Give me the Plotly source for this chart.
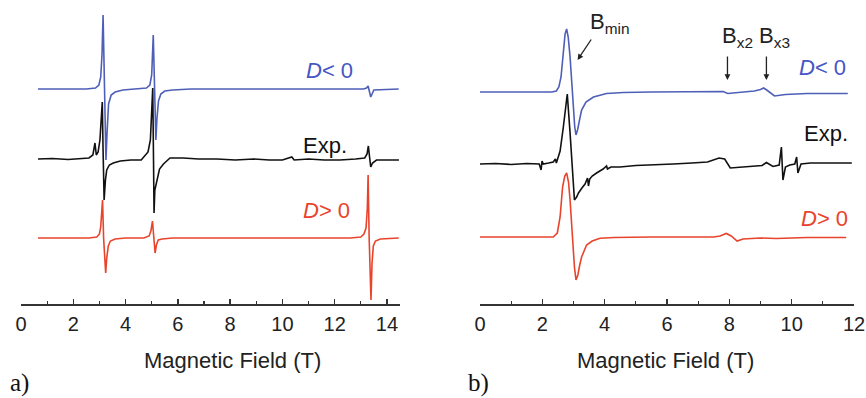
import plotly.graph_objects as go

# ---------------- Panel a) data (field in T, intensity relative to each baseline) ----------------
A_BLUE_X = [0.65, 2.5, 2.85, 2.98, 3.05, 3.10, 3.14, 3.18, 3.22, 3.25, 3.29, 3.35, 3.45, 3.6, 3.9, 4.4,
            4.8, 4.93, 5.0, 5.06, 5.10, 5.13, 5.16, 5.2, 5.26, 5.35, 5.5, 5.8, 6.5, 13.1, 13.22, 13.28,
            13.33, 13.38, 13.5, 14.45]
A_BLUE_Y = [0, 0, 1, 4, 12, 35, 74, 20, -40, -71, -45, -15, -6, -3, -1, 0,
            1, 4, 14, 54, 0, -40, -51, -30, -12, -5, -2, -1, 0, 0, 1, 3,
            -3, -8, -1, 0]

A_EXP_X = [0.65, 1.2, 1.8, 2.3, 2.6, 2.75, 2.83, 2.88, 2.95, 3.02, 3.07, 3.11, 3.14, 3.18, 3.23, 3.28,
           3.38, 3.53, 3.8, 4.2, 4.6, 4.86, 4.95, 5.0, 5.04, 5.07, 5.09, 5.12, 5.2, 5.3, 5.45, 5.7,
           6.2, 6.8, 7.5, 8.2, 8.9, 9.5, 10.0, 10.36, 10.45, 11.0, 11.6, 12.2, 12.8, 13.15, 13.24,
           13.29, 13.34, 13.38, 13.45, 13.6, 14.0, 14.46]
A_EXP_Y = [1, 1.5, 0.5, 1, 2, 5, 17, 5, 8, 20, 40, 58, 10, -40, -20, -10,
           -5, -3, -1, 0, 0, 8, 20, 45, 72, 0, -53, -30, -20, -9, -4, 2,
           2, 1, 1, 0, 1, 0, 0, 3, 0, 1, 0, 0, 1, 2, 6,
           14, 2, -7, -3, 0, 0, 0]

A_RED_X = [0.65, 2.6, 2.9, 3.0, 3.05, 3.09, 3.12, 3.16, 3.2, 3.24, 3.28, 3.34, 3.42, 3.6, 4.0, 4.7,
           4.9, 4.97, 5.03, 5.08, 5.13, 5.18, 5.25, 5.4, 5.8, 12.6, 13.0, 13.12, 13.2, 13.25, 13.28,
           13.32, 13.36, 13.39, 13.43, 13.48, 13.56, 13.75, 14.45]
A_RED_Y = [0, 0, 1, 4, 11, 25, 38, 0, -25, -35, -20, -8, -3, -1, 0, 0,
           2, 7, 17, 0, -15, -7, -2, -1, 0, 0, 1, 4, 10, 30, 63,
           0, -45, -62, -25, -8, -3, -1, 0]

# ---------------- Panel b) data ----------------
B_BLUE_X = [0, 2.3, 2.45, 2.53, 2.6, 2.67, 2.73, 2.78, 2.83, 2.89, 2.95, 3.0, 3.04, 3.08, 3.13, 3.2,
            3.26, 3.4, 3.64, 4.06, 4.6, 5.5, 6.5, 7.5, 7.8, 7.95, 8.1, 8.4, 8.8, 9.0, 9.1, 9.2,
            9.35, 9.45, 9.8, 10.5, 11.2, 11.8]
B_BLUE_Y = [0, 0, 1, 5, 15, 42, 58, 63, 55, 35, 5, -20, -35, -43, -38, -27,
            -18, -10, -5, -1.5, -0.5, 0, 0, 0, 0.5, -1.5, -1, -0.5, 1, 2.5, 4, 2,
            -2, -4, -2.5, -1.5, -1.5, -1.5]

B_EXP_X = [0, 0.5, 1.0, 1.5, 1.9, 1.96, 1.99, 2.03, 2.2, 2.35, 2.42, 2.45, 2.48, 2.57, 2.67, 2.74,
           2.8, 2.89, 2.97, 3.03, 3.1, 3.16, 3.27, 3.37, 3.45, 3.48, 3.52, 3.6, 3.74, 3.95, 4.06,
           4.09, 4.2, 4.49, 5.0, 5.6, 6.2, 6.8, 7.3, 7.67, 7.85, 8.03, 8.4, 8.76, 9.05, 9.19, 9.4,
           9.6, 9.67, 9.72, 9.8, 9.94, 10.1, 10.16, 10.2, 10.3, 10.6, 11.0, 11.5, 11.93]
B_EXP_Y = [0, 0.5, -0.5, 0.5, 0, -6, 3, 0, 1, 2, 5, 1, 4, 13, 36, 58,
           70, 31, -13, -36, -33, -29, -24, -20, -14, -22, -15, -12, -9, -5, -2,
           -5, -3, -3, -1.5, -1, 0, 1, 2, 6, 5, -4, -3, -2.5, -1.5, 1.5, -2.5,
           -1, 17, -16, -3, -1, 0, 7, -9, 0, 1, 1, 1, 1]

B_RED_X = [0, 2.35, 2.48, 2.57, 2.65, 2.72, 2.78, 2.84, 2.89, 2.97, 3.03, 3.08, 3.14, 3.2, 3.26, 3.42,
           3.6, 3.85, 4.3, 5.5, 6.5, 7.5, 7.7, 7.8, 7.9, 8.06, 8.25, 8.44, 9.0, 9.5, 10.5, 11.75]
B_RED_Y = [0, 0, 4, 20, 50, 61, 64, 55, 37, -3, -30, -43, -38, -28, -20, -8,
           -4, -1.3, -0.5, 0, 0, 0, 1, 2.5, 3.5, 1, -4, -2, -1, -1.5, -0.5, -0.5]

TICKS_A = [0, 2, 4, 6, 8, 10, 12, 14]
TICKS_B = [0, 2, 4, 6, 8, 10, 12]
X_TITLE = "Magnetic Field (T)"

# vertical stacking offsets of the spectra
OFF_A = {"blue": 215, "exp": 144, "red": 66}
OFF_B = {"blue": 212, "exp": 140, "red": 67}

BLUE = "#4f5fb8"
BLACK = "#111111"
RED = "#e8442c"
LBL_BLUE = "#4656c4"
LBL_RED = "#e8442c"
FONT = "Liberation Sans, Arial, sans-serif"
SERIF = "Liberation Serif, Times New Roman, serif"

W, H = 866, 398
PLOT_BOTTOM = 304  # px from figure top (axis line)


def py(px):
    """figure pixel row -> paper y (paper is relative to the plot area)"""
    return (PLOT_BOTTOM - px) / PLOT_BOTTOM


fig = go.Figure()


def add(xs, ys, off, color, xa, ya):
    fig.add_trace(go.Scatter(x=xs, y=[v + off for v in ys], mode="lines",
                             line=dict(color=color, width=1.6), xaxis=xa, yaxis=ya,
                             hoverinfo="skip"))


add(A_BLUE_X, A_BLUE_Y, OFF_A["blue"], BLUE, "x", "y")
add(A_EXP_X, A_EXP_Y, OFF_A["exp"], BLACK, "x", "y")
add(A_RED_X, A_RED_Y, OFF_A["red"], RED, "x", "y")
add(B_BLUE_X, B_BLUE_Y, OFF_B["blue"], BLUE, "x2", "y2")
add(B_EXP_X, B_EXP_Y, OFF_B["exp"], BLACK, "x2", "y2")
add(B_RED_X, B_RED_Y, OFF_B["red"], RED, "x2", "y2")

axis_common = dict(
    showline=True, linecolor="#333333", linewidth=1.5,
    ticks="inside", ticklen=5, tickwidth=1.5, tickcolor="#333333",
    minor=dict(ticks="inside", ticklen=3, tickwidth=1.2, tickcolor="#333333", dtick=1, tick0=0),
    showgrid=False, zeroline=False,
    ticklabelstandoff=1, ticklabeloverflow="allow",
    tickfont=dict(family=FONT, size=20, color="#222222"),
)

fig.update_layout(
    width=W, height=H,
    margin=dict(l=0, r=0, t=0, b=H - PLOT_BOTTOM, autoexpand=False),
    paper_bgcolor="white", plot_bgcolor="white",
    showlegend=False,
    xaxis=dict(domain=[21 / W, 400 / W], range=[0, 14.5], tickmode="array", tickvals=TICKS_A,
               anchor="y", **axis_common),
    xaxis2=dict(domain=[480 / W, 854 / W], range=[0, 12], tickmode="array", tickvals=TICKS_B,
                anchor="y2", **axis_common),
    yaxis=dict(domain=[0, 1], range=[0, PLOT_BOTTOM], visible=False, anchor="x"),
    yaxis2=dict(domain=[0, 1], range=[0, PLOT_BOTTOM], visible=False, anchor="x2"),
)

ann = []


def label(text, x, y, color, xref, yref, size=22, xanchor="right"):
    ann.append(dict(text=text, x=x, y=y, xref=xref, yref=yref, showarrow=False,
                    xanchor=xanchor, yanchor="middle",
                    font=dict(family=FONT, size=size, color=color)))


label("<i>D</i>< 0", 12.78, 234, LBL_BLUE, "x", "y")
label("Exp.", 12.55, 159, BLACK, "x", "y")
label("<i>D</i>> 0", 12.66, 94, LBL_RED, "x", "y")

label("<i>D</i>< 0", 11.81, 237, LBL_BLUE, "x2", "y2")
label("Exp.", 11.87, 171, BLACK, "x2", "y2")
label("<i>D</i>> 0", 11.87, 86, LBL_RED, "x2", "y2")

label("B<sub>min</sub>", 3.45, 281, "#222222", "x2", "y2", size=22, xanchor="left")
label("B<sub>x2</sub>", 7.7, 267, "#222222", "x2", "y2", size=22, xanchor="left")
label("B<sub>x3</sub>", 8.9, 267, "#222222", "x2", "y2", size=22, xanchor="left")

# arrows (head x/y, tail ax/ay)
for (hx, hy, tx, ty) in [(3.13, 244, 3.6, 266), (7.94, 224, 7.94, 249), (9.19, 224, 9.19, 249)]:
    ann.append(dict(x=hx, y=hy, ax=tx, ay=ty, xref="x2", yref="y2", axref="x2", ayref="y2",
                    text="", showarrow=True, arrowhead=2, arrowsize=0.9, arrowwidth=1.3,
                    arrowcolor="#222222"))

# axis titles (as annotations so they can sit where the reference has them)
for cx in (232, 665):
    ann.append(dict(text=X_TITLE, x=cx / W, y=py(360), xref="paper", yref="paper",
                    xanchor="center", yanchor="middle", showarrow=False,
                    font=dict(family=FONT, size=22, color="#222222")))

# panel letters
for txt, xpx in [("a)", 9), ("b)", 467)]:
    ann.append(dict(text=txt, x=xpx / W, y=py(398), xref="paper", yref="paper",
                    xanchor="left", yanchor="bottom", showarrow=False, borderpad=0,
                    font=dict(family=SERIF, size=25, color="#111111")))

fig.update_layout(annotations=ann)
# remove the browser's default 8px body margin so the figure fills the window exactly
fig.write_html("out.html",
               config={"displayModeBar": False, "staticPlot": True},
               post_script="document.body.style.margin='0';document.documentElement.style.overflow='hidden';")
